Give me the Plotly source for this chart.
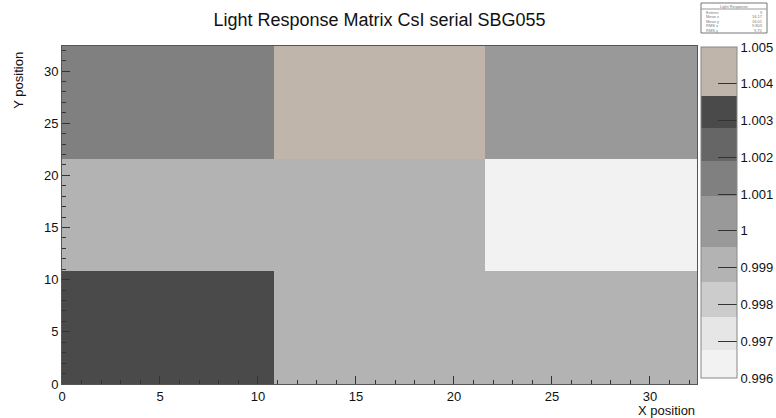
import plotly.graph_objects as go

# bin edges (X and Y) of the 3x3 matrix
x_edges = [0, 10.8, 21.6, 32.4]
y_edges = [0, 10.8, 21.6, 32.4]

# light response per cell, rows from bottom (y low) to top
z_values = [
    [1.0032, 0.9990, 0.9990],
    [0.9990, 0.9990, 0.9963],
    [1.0014, 1.0045, 1.0003],
]

z_min, z_max = 0.996, 1.005
# contour boundaries of the palette and their colours (bottom -> top)
levels = [0.996, 0.99676, 0.99766, 0.9986, 0.99956, 1.00096, 1.0019, 1.00281, 1.00368, 1.005]
band_colors = ["#f2f2f2", "#e6e6e6", "#cccccc", "#b3b3b3", "#999999",
               "#808080", "#666666", "#4a4a4a", "#bfb5aa"]

cbar_ticks = [0.996, 0.997, 0.998, 0.999, 1.0, 1.001, 1.002, 1.003, 1.004, 1.005]
cbar_text = ["0.996", "0.997", "0.998", "0.999", "1", "1.001", "1.002", "1.003", "1.004", "1.005"]

stats_labels = ["Entries", "Mean x", "Mean y", "RMS x", "RMS y"]
stats_values = ["9", "16.17", "16.01", "9.803", "9.75"]

# discrete colourscale
colorscale = []
for i, c in enumerate(band_colors):
    lo = (levels[i] - z_min) / (z_max - z_min)
    hi = (levels[i + 1] - z_min) / (z_max - z_min)
    colorscale.append([max(lo, 0), c])
    colorscale.append([min(hi, 1), c])

FONT = "Liberation Sans, Arial, sans-serif"

fig = go.Figure(go.Heatmap(
    x=x_edges, y=y_edges, z=z_values,
    zmin=z_min, zmax=z_max,
    colorscale=colorscale,
    colorbar=dict(
        x=1.006, xanchor="left", xpad=0,
        y=0.997, yanchor="top", ypad=0, len=0.98, lenmode="fraction",
        thickness=36, outlinewidth=1, outlinecolor="#888",
        tickvals=cbar_ticks, ticktext=cbar_text,
        ticks="inside", ticklen=19, tickcolor="#333", tickwidth=1,
        tickfont=dict(size=13, color="#111", family=FONT),
    ),
))

axis_common = dict(
    showgrid=False, zeroline=False,
    showline=True, mirror=True, linecolor="#555", linewidth=1,
    ticks="inside", ticklen=8, tickcolor="#333", dtick=5, tick0=0,
    minor=dict(ticks="inside", ticklen=4, dtick=1, tickcolor="#333"),
    tickfont=dict(size=13, color="#111", family=FONT),
)

fig.update_xaxes(range=[0, 32.4], **axis_common)
fig.update_yaxes(range=[0, 32.4], **axis_common)

fig.update_layout(
    width=776, height=418,
    margin=dict(l=62, r=79, t=46, b=34, autoexpand=False),
    paper_bgcolor="white", plot_bgcolor="white",
    font=dict(family=FONT, color="#111"),
    title=dict(text="Light Response Matrix CsI serial SBG055",
               x=0.5, xref="paper", xanchor="center",
               y=0.952, yanchor="middle", font=dict(size=18, color="#111")),
    showlegend=False,
)

fig.add_annotation(text="Y position", xref="paper", yref="paper",
                   x=-0.069, y=0.988, xanchor="center", yanchor="top",
                   textangle=-90, showarrow=False, font=dict(size=13, color="#111"))
fig.add_annotation(text="X position", xref="paper", yref="paper",
                   x=1.0, y=-0.077, xanchor="right", yanchor="middle",
                   showarrow=False, font=dict(size=13, color="#111"))

# stats box (top right)
def px_x(p):
    return (p - 62) / 635


def px_y(p):
    return (384 - p) / 338


fig.add_shape(type="rect", xref="paper", yref="paper",
              x0=px_x(701), x1=px_x(767), y0=px_y(33), y1=px_y(3),
              line=dict(color="#777", width=1), fillcolor="white")
fig.add_shape(type="line", xref="paper", yref="paper",
              x0=px_x(701), x1=px_x(767), y0=px_y(9), y1=px_y(9),
              line=dict(color="#999", width=1))
fig.add_annotation(text="Light Response", xref="paper", yref="paper",
                   x=px_x(734), y=px_y(6), xanchor="center", yanchor="middle",
                   showarrow=False, font=dict(size=4, color="#777"))
for i, (lab, val) in enumerate(zip(stats_labels, stats_values)):
    yy = px_y(12.5 + i * 4.5)
    fig.add_annotation(text=lab, xref="paper", yref="paper", x=px_x(704), y=yy,
                       xanchor="left", yanchor="middle", showarrow=False,
                       font=dict(size=4, color="#777"))
    fig.add_annotation(text=val, xref="paper", yref="paper", x=px_x(765), y=yy,
                       xanchor="right", yanchor="middle", showarrow=False,
                       font=dict(size=4, color="#777"))

# page body has a default 8px margin; remove it so the figure fills the window
fig.write_html("out.html", config={"displayModeBar": False},
               post_script="document.body.style.margin='0';")
